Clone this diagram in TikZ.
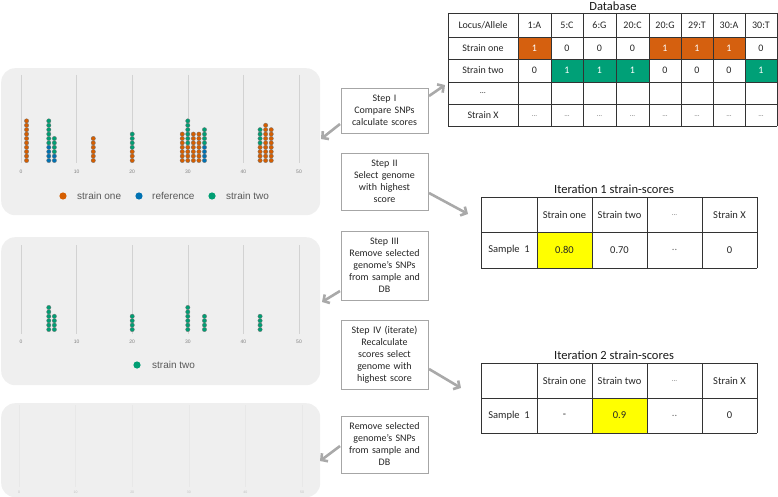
\documentclass[tikz,border=0pt]{standalone}
\usepackage{fontspec}
\setmainfont{Carlito}
\newfontfamily\chartfont{Liberation Sans}
\usetikzlibrary{arrows.meta}
\definecolor{sone}{HTML}{D55E00}
\definecolor{sref}{HTML}{0072B2}
\definecolor{stwo}{HTML}{009E73}
\definecolor{cellor}{HTML}{D5600F}
\definecolor{cellgr}{HTML}{00A077}
\definecolor{panelbg}{HTML}{EFEFEF}
\definecolor{gridc}{HTML}{D2D2D2}
\definecolor{arrowc}{HTML}{A9A9A9}
\definecolor{yel}{HTML}{FFFF00}
\tikzset{
 panel/.style={fill=panelbg, draw=none, rounded corners=14pt, inner sep=0},
 gridln/.style={draw=gridc, line width=0.5pt},
 ticklab/.style={font=\chartfont\fontsize{5}{6}\selectfont, text=black!50, inner sep=0},
 legtext/.style={font=\chartfont\fontsize{10}{12}\selectfont, text=black!65, anchor=west, inner sep=0},
 stepbox/.style={draw=black!35, line width=0.7pt, fill=white, align=center, minimum width=87pt, text width=85pt, inner sep=1pt, font=\fontsize{10}{12}\selectfont, text=black!85},
 arr/.style={draw=arrowc, line width=2.6pt, -{Straight Barb[length=4.5pt,width=10pt]}},
 cell/.style={font=\fontsize{10}{12}\selectfont, inner sep=0, text=black!85},
 icell/.style={font=\fontsize{10.5}{12}\selectfont, inner sep=0, text=black!85},
 ttitle/.style={font=\fontsize{12.5}{14}\selectfont, inner sep=0, text=black!90},
 tline/.style={draw=black!80, line width=0.9pt},
}
\newcommand\dcol[5]{\foreach \i in {1,...,#4}{\filldraw[fill=#5, draw=black!55, line width=0.3pt] ({21+5.56*#1}, {#2-4.4*(#3+\i-1)}) circle (2.2);}}
\begin{document}
\begin{tikzpicture}[x=1pt,y=-1pt]
\useasboundingbox (0,0) rectangle (778,497);
% ---------- panels
\node[panel, minimum width=319pt, minimum height=147pt, anchor=north west] (p1) at (1,68) {};
\node[panel, minimum width=319pt, minimum height=148pt, anchor=north west] (p2) at (1,237) {};
\node[panel, minimum width=319pt, minimum height=94pt, anchor=north west] (p3) at (1,403) {};
% grid lines and ticks
\foreach \k in {0,10,...,50}{
  \draw[gridln] ({21+5.56*\k},75) -- ({21+5.56*\k},163);
  \node[ticklab] (ta-\k) at ({21+5.56*\k},172) {\k};
  \draw[gridln] ({21+5.56*\k},245) -- ({21+5.56*\k},334);
  \node[ticklab] (tb-\k) at ({21+5.56*\k},342) {\k};
  \draw[draw=black!9, line width=0.4pt] ({19+5.66*\k},405) -- ({19+5.66*\k},487);
  \node[ticklab, font=\chartfont\fontsize{3.5}{4}\selectfont, text=black!25] (tc-\k) at ({19+5.66*\k},492) {\k};
}
% dots, top panel
\dcol{1}{160.5}{0}{10}{sone}
\dcol{5}{160.5}{0}{4}{sref} \dcol{5}{160.5}{4}{6}{stwo}
\dcol{6}{160.5}{0}{2}{sref} \dcol{6}{160.5}{2}{4}{stwo}
\dcol{13}{160.5}{0}{6}{sone}
\dcol{20}{160.5}{0}{3}{sone} \dcol{20}{160.5}{3}{4}{stwo}
\dcol{29}{160.5}{0}{7}{sone}
\dcol{30}{160.5}{0}{4}{sone} \dcol{30}{160.5}{4}{6}{stwo}
\dcol{31}{160.5}{0}{7}{sone}
\dcol{32}{160.5}{0}{7}{sone}
\dcol{33}{160.5}{0}{4}{sref} \dcol{33}{160.5}{4}{4}{stwo}
\dcol{43}{160.5}{0}{4}{sone} \dcol{43}{160.5}{4}{4}{stwo}
\dcol{44}{160.5}{0}{9}{sone}
\dcol{45}{160.5}{0}{8}{sone}
% dots, middle panel
\dcol{5}{329.5}{0}{6}{stwo}
\dcol{6}{329.5}{0}{4}{stwo}
\dcol{20}{329.5}{0}{4}{stwo}
\dcol{30}{329.5}{0}{6}{stwo}
\dcol{33}{329.5}{0}{4}{stwo}
\dcol{43}{329.5}{0}{4}{stwo}
% legends
\fill[sone] (63,196) circle (3.6);
\node[legtext] (lg1) at (77,196) {strain one};
\fill[sref] (139,196) circle (3.6);
\node[legtext] (lg2) at (152,196) {reference};
\fill[stwo] (212,196) circle (3.6);
\node[legtext] (lg3) at (226,196) {strain two};
\fill[stwo] (137,365) circle (3.6);
\node[legtext] (lg4) at (152,365) {strain two};
% ---------- step boxes
\node[stepbox, minimum height=45pt] (s1) at (384.5,110.5) {Step I\\Compare SNPs\\calculate scores};
\node[stepbox, minimum height=57pt] (s2) at (384.5,181.5) {Step II\\Select genome\\with highest\\score};
\node[stepbox, minimum height=69pt] (s3) at (384.5,265.5) {Step III\\Remove selected\\genome’s SNPs\\from sample and\\DB};
\node[stepbox, minimum height=69pt] (s4) at (384.5,354.5) {Step IV (iterate)\\Recalculate\\scores select\\genome with\\highest score};
\node[stepbox, minimum height=57pt] (s5) at (384.5,444.5) {Remove selected\\genome’s SNPs\\from sample and\\DB};
% ---------- arrows
\coordinate (a1s) at (429,96);  \coordinate (a1e) at (445,85);
\coordinate (a2s) at (340,124); \coordinate (a2e) at (321,139);
\coordinate (a3s) at (429,193); \coordinate (a3e) at (468,214);
\coordinate (a4s) at (340,291); \coordinate (a4e) at (322,302);
\coordinate (a5s) at (429,369); \coordinate (a5e) at (461,388);
\coordinate (a6s) at (340,446); \coordinate (a6e) at (320,461);
\draw[arr] (a1s) -- (a1e);
\draw[arr] (a2s) -- (a2e);
\draw[arr] (a3s) -- (a3e);
\draw[arr] (a4s) -- (a4e);
\draw[arr] (a5s) -- (a5e);
\draw[arr] (a6s) -- (a6e);
% ---------- database table
\node[ttitle] (dbt) at (613,6) {Database};
\fill[cellor] (518,37) rectangle (551,59);
\fill[cellor] (649,37) rectangle (745,59);
\fill[cellgr] (551,59) rectangle (649,82);
\fill[cellgr] (745,59) rectangle (777,82);
\foreach \yy in {13,37,59,82,104,126} \draw[tline] (448,\yy) -- (777,\yy);
\foreach \xx in {448,518,551,583,616,649,681,713,745,777} \draw[tline] (\xx,13) -- (\xx,126);
\def\dbx{{483,534.5,567,599.5,632.5,665,697,729,761}}
\foreach \t [count=\c from 0] in {{Locus/Allele},1:A,5:C,6:G,20:C,20:G,29:T,30:A,30:T}{
  \pgfmathsetmacro\cx{\dbx[\c]}
  \node[cell] (db0-\c) at (\cx,25) {\t};}
\foreach \t/\f [count=\c from 0] in {Strain one/black!85,1/white,0/black!85,0/black!85,0/black!85,1/white,1/white,1/white,0/black!85}{
  \pgfmathsetmacro\cx{\dbx[\c]}
  \node[cell, text=\f] (db1-\c) at (\cx,48) {\t};}
\foreach \t/\f [count=\c from 0] in {Strain two/black!85,0/black!85,1/white,1/white,1/white,0/black!85,0/black!85,0/black!85,1/white}{
  \pgfmathsetmacro\cx{\dbx[\c]}
  \node[cell, text=\f] (db2-\c) at (\cx,70.5) {\t};}
\node[cell, font=\fontsize{8}{10}\selectfont] (db3-0) at (483,93) {…};
\node[cell] (db4-0) at (483,115) {Strain X};
\foreach \c in {1,...,8}{
  \pgfmathsetmacro\cx{\dbx[\c]}
  \node[cell, font=\fontsize{7}{9}\selectfont, text=black!60] (db4-\c) at (\cx,116) {…};}
% ---------- iteration 1 table
\def\itx{{509,564.5,619.5,674.5,729.5}}
\node[ttitle] (it1t) at (614,189) {Iteration 1 strain-scores};
\fill[yel] (537,232) rectangle (592,268);
\foreach \yy in {197,232,268} \draw[tline] (481,\yy) -- (757,\yy);
\foreach \xx in {481,537,592,647,702,757} \draw[tline] (\xx,197) -- (\xx,268);
\node[icell] (i1a-1) at (564.5,214.5) {Strain one};
\node[icell] (i1a-2) at (619.5,214.5) {Strain two};
\node[icell, font=\fontsize{7}{9}\selectfont, text=black!60] (i1a-3) at (674.5,215.5) {…};
\node[icell] (i1a-4) at (729.5,214.5) {Strain X};
\node[icell] (i1b-0) at (509,250) {Sample\ \ 1};
\node[icell] (i1b-1) at (564.5,250) {0.80};
\node[icell] (i1b-2) at (619.5,250) {0.70};
\node[icell, text=black!60] (i1b-3) at (674.5,250) {..};
\node[icell] (i1b-4) at (729.5,250) {0};
% ---------- iteration 2 table
\node[ttitle] (it2t) at (614,355) {Iteration 2 strain-scores};
\fill[yel] (592,398) rectangle (647,433);
\foreach \yy in {363,398,433} \draw[tline] (481,\yy) -- (757,\yy);
\foreach \xx in {481,537,592,647,702,757} \draw[tline] (\xx,363) -- (\xx,433);
\node[icell] (i2a-1) at (564.5,380.5) {Strain one};
\node[icell] (i2a-2) at (619.5,380.5) {Strain two};
\node[icell, font=\fontsize{7}{9}\selectfont, text=black!60] (i2a-3) at (674.5,381.5) {…};
\node[icell] (i2a-4) at (729.5,380.5) {Strain X};
\node[icell] (i2b-0) at (509,415.5) {Sample\ \ 1};
\node[icell] (i2b-1) at (564.5,415.5) {-};
\node[icell] (i2b-2) at (619.5,415.5) {0.9};
\node[icell, text=black!60] (i2b-3) at (674.5,415.5) {..};
\node[icell] (i2b-4) at (729.5,415.5) {0};
\end{tikzpicture}
\end{document}
